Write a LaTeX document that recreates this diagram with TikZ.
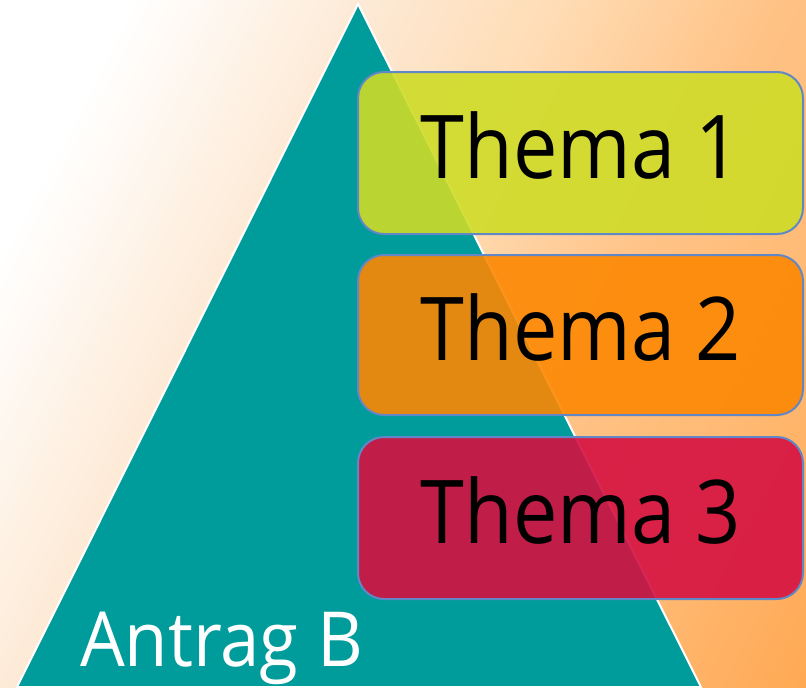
\documentclass[tikz,border=0pt]{standalone}
\usepackage{fontspec}
\setmainfont{Open Sans}
\definecolor{teal1}{RGB}{0,155,155}
\definecolor{edgeblue}{RGB}{98,135,198}
\definecolor{th1}{RGB}{207,220,39}
\definecolor{th2}{RGB}{252,136,3}
\definecolor{th3}{RGB}{213,16,65}
\definecolor{bgA}{RGB}{253,232,210}
\definecolor{bgB}{RGB}{255,220,180}
\definecolor{bgC}{RGB}{255,195,135}
\definecolor{bgD}{RGB}{255,185,115}
\definecolor{bgE}{RGB}{255,168,82}
\definecolor{bgF}{RGB}{255,160,70}
\pgfdeclarehorizontalshading{bgsh}{100bp}{color(0bp)=(white); color(24bp)=(white); color(39bp)=(bgA); color(49bp)=(bgB); color(61bp)=(bgC); color(72bp)=(bgD); color(84bp)=(bgE); color(100bp)=(bgF)}
\begin{document}
\begin{tikzpicture}[x=1pt,y=-1pt,
  themebox/.style={draw=edgeblue, line width=2pt, rounded corners=26pt, fill opacity=0.9},
  themetext/.style={anchor=base, font=\fontsize{88}{100}\selectfont, text=black, inner sep=0pt, xscale=0.9}]
\useasboundingbox (0,0) rectangle (806,688);
\shade[shading=bgsh, shading angle=-27.2] (0,0) rectangle (806,688);
\draw[fill=teal1, draw=white, line width=2pt, line join=miter] (358,4) coordinate (apex) -- (701,687) coordinate (br) -- (17,687) coordinate (bl) -- cycle;
\node[anchor=base west, font=\fontsize{76}{90}\selectfont, text=white, inner sep=0pt, xscale=0.93] (antrag) at (80,666) {Antrag B};
\draw[themebox, fill=th1] (358,72) rectangle (803,234);
\draw[themebox, fill=th2] (358,255) rectangle (803,415);
\draw[themebox, fill=th3] (358,437) rectangle (803,599);
\node[themetext] (t1) at (581,178) {Thema 1};
\node[themetext] (t2) at (581,360) {Thema 2};
\node[themetext] (t3) at (581,543) {Thema 3};
\end{tikzpicture}
\end{document}
